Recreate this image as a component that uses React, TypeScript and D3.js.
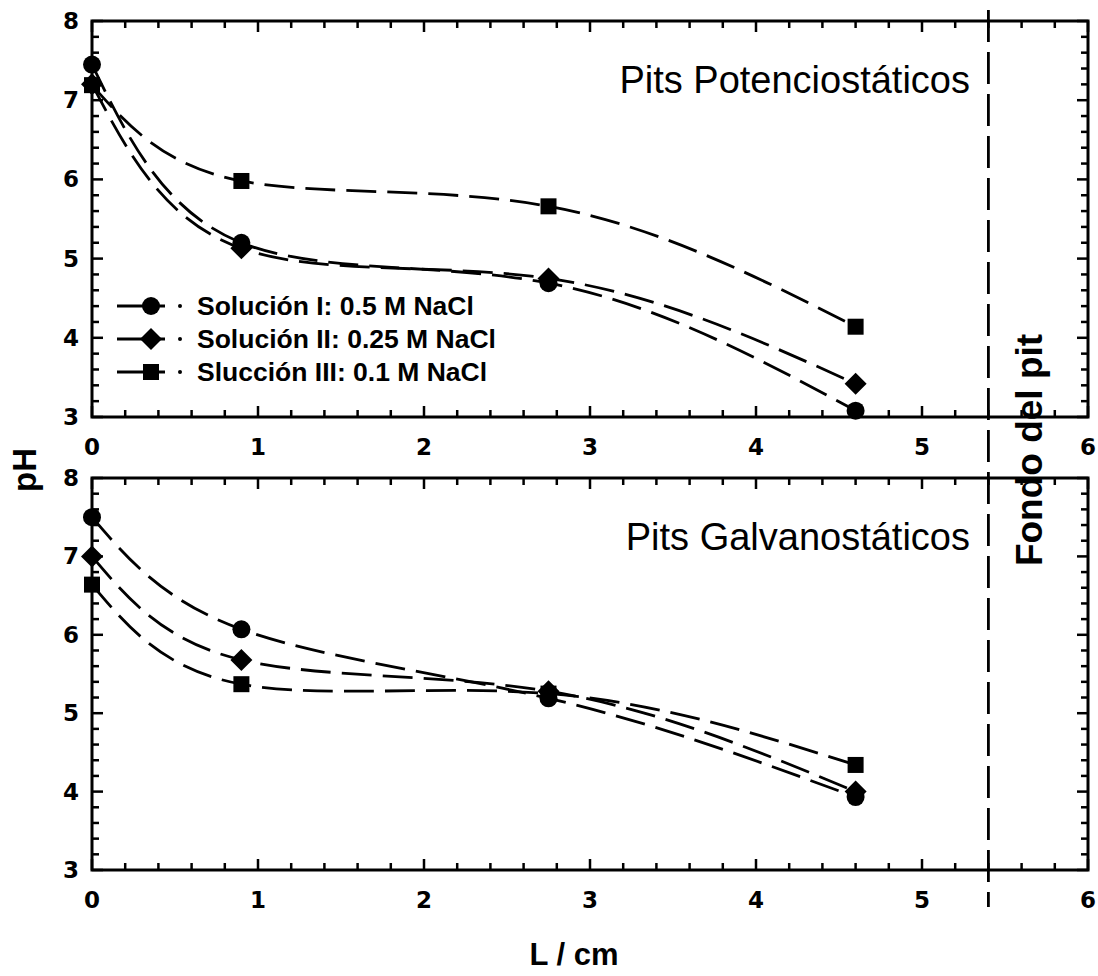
import React from "react";
import * as d3 from "d3";

// Distance from the pit mouth (cm) at which pH was measured
const positions = [0, 0.9, 2.75, 4.6];

// Potentiostatic pits
const potSol1 = [7.45, 5.2, 4.69, 3.08];
const potSol2 = [7.2, 5.13, 4.75, 3.42];
const potSol3 = [7.19, 5.98, 5.66, 4.14];

// Galvanostatic pits
const galSol1 = [7.5, 6.07, 5.19, 3.93];
const galSol2 = [7.0, 5.68, 5.28, 4.0];
const galSol3 = [6.64, 5.37, 5.25, 4.34];

const seriesNames = [
  "Solución I: 0.5 M NaCl",
  "Solución II: 0.25 M NaCl",
  "Slucción III: 0.1 M NaCl",
];
const markerKinds = ["circle", "diamond", "square"];

const xTicks = [0, 1, 2, 3, 4, 5, 6];
const yTicks = [3, 4, 5, 6, 7, 8];
const pitBottom = 5.4;

const W = 1098;
const H = 976;
const left = 92;
const right = 1088;

const x = d3.scaleLinear().domain([0, 6]).range([left, right]);
const yTop = d3.scaleLinear().domain([3, 8]).range([417, 21]);
const yBot = d3.scaleLinear().domain([3, 8]).range([870, 478]);

const FONT = "'Liberation Sans', Arial, Helvetica, sans-serif";
const TICK_FONT = "'DejaVu Sans', 'Liberation Sans', sans-serif";

function Marker({ kind, cx, cy }: { kind: string; cx: number; cy: number }) {
  if (kind === "circle") return <circle cx={cx} cy={cy} r={9} fill="#000" />;
  if (kind === "diamond")
    return (
      <path
        d={`M${cx},${cy - 11}L${cx + 11},${cy}L${cx},${cy + 11}L${cx - 11},${cy}Z`}
        fill="#000"
      />
    );
  return <rect x={cx - 8} y={cy - 8} width={16} height={16} fill="#000" />;
}

function Panel({
  y,
  series,
  title,
  showLegend,
}: {
  y: d3.ScaleLinear<number, number>;
  series: number[][];
  title: string;
  showLegend: boolean;
}) {
  const [y0, y1] = [y(3), y(8)];
  const line = d3
    .line<[number, number]>()
    .x((d) => x(d[0]))
    .y((d) => y(d[1]))
    .curve(d3.curveNatural);
  const minorX = d3.range(0, 6.001, 0.2);
  const minorY = d3.range(3, 8.001, 0.2);
  const isMajor = (v: number) => Math.abs(v - Math.round(v)) < 1e-6;
  return (
    <g>
      {series.map((vals, i) => (
        <path
          key={"l" + i}
          d={line(positions.map((p, j) => [p, vals[j]] as [number, number])) || ""}
          fill="none"
          stroke="#000"
          strokeWidth={2.8}
          strokeDasharray="30 11"
        />
      ))}
      {series.map((vals, i) =>
        positions.map((p, j) => (
          <Marker key={`m${i}-${j}`} kind={markerKinds[i]} cx={x(p)} cy={y(vals[j])} />
        ))
      )}
      {/* frame */}
      <rect
        x={left}
        y={y1}
        width={right - left}
        height={y0 - y1}
        fill="none"
        stroke="#000"
        strokeWidth={3}
      />
      {/* inward ticks on all four sides */}
      {minorX.map((v, i) => {
        const len = isMajor(v) ? 11 : 7;
        return (
          <g key={"tx" + i}>
            <line x1={x(v)} x2={x(v)} y1={y0} y2={y0 - len} stroke="#000" strokeWidth={2.5} />
            <line x1={x(v)} x2={x(v)} y1={y1} y2={y1 + len} stroke="#000" strokeWidth={2.5} />
          </g>
        );
      })}
      {minorY.map((v, i) => {
        const len = isMajor(v) ? 11 : 7;
        return (
          <g key={"ty" + i}>
            <line x1={left} x2={left + len} y1={y(v)} y2={y(v)} stroke="#000" strokeWidth={2.5} />
            <line x1={right} x2={right - len} y1={y(v)} y2={y(v)} stroke="#000" strokeWidth={2.5} />
          </g>
        );
      })}
      {xTicks.map((v) => (
        <text
          key={"xl" + v}
          x={x(v)}
          y={y0 + 38}
          textAnchor="middle"
          fontFamily={TICK_FONT}
          fontWeight="bold"
          fontSize={23}
        >
          {v}
        </text>
      ))}
      {yTicks.map((v) => (
        <text
          key={"yl" + v}
          x={79}
          y={y(v) + 8}
          textAnchor="end"
          fontFamily={TICK_FONT}
          fontWeight="bold"
          fontSize={23}
        >
          {v}
        </text>
      ))}
      <text x={970} y={y1 + 72} textAnchor="end" fontFamily={FONT} fontSize={38}>
        {title}
      </text>
      {showLegend &&
        seriesNames.map((name, i) => {
          const cy = 306 + i * 33;
          return (
            <g key={"lg" + i}>
              <line x1={117} x2={165} y1={cy} y2={cy} stroke="#000" strokeWidth={3} />
              <Marker kind={markerKinds[i]} cx={151} cy={cy} />
              <circle cx={180} cy={cy} r={2} fill="#000" />
              <text
                x={197}
                y={cy + 9}
                fontFamily={FONT}
                fontWeight="bold"
                fontSize={26.5}
              >
                {name}
              </text>
            </g>
          );
        })}
    </g>
  );
}

export default function App() {
  return (
    <svg
      width={W}
      height={H}
      style={{ display: "block", position: "absolute", left: 0, top: 0, background: "#fff" }}
    >
      <rect width={W} height={H} fill="#fff" />
      <Panel y={yTop} series={[potSol1, potSol2, potSol3]} title="Pits Potenciostáticos" showLegend />
      <Panel y={yBot} series={[galSol1, galSol2, galSol3]} title="Pits Galvanostáticos" showLegend={false} />
      {/* pit bottom marker */}
      <line
        x1={x(pitBottom)}
        x2={x(pitBottom)}
        y1={10}
        y2={907}
        stroke="#000"
        strokeWidth={2.8}
        strokeDasharray="32 10"
      />
      <text
        transform={`translate(1042,450) rotate(-90)`}
        textAnchor="middle"
        fontFamily={FONT}
        fontWeight="bold"
        fontSize={37}
      >
        Fondo del pit
      </text>
      <text
        transform={`translate(36,470) rotate(-90)`}
        textAnchor="middle"
        fontFamily={FONT}
        fontWeight="bold"
        fontSize={33}
      >
        pH
      </text>
      <text x={574} y={965} textAnchor="middle" fontFamily={FONT} fontWeight="bold" fontSize={31}>
        L / cm
      </text>
    </svg>
  );
}
